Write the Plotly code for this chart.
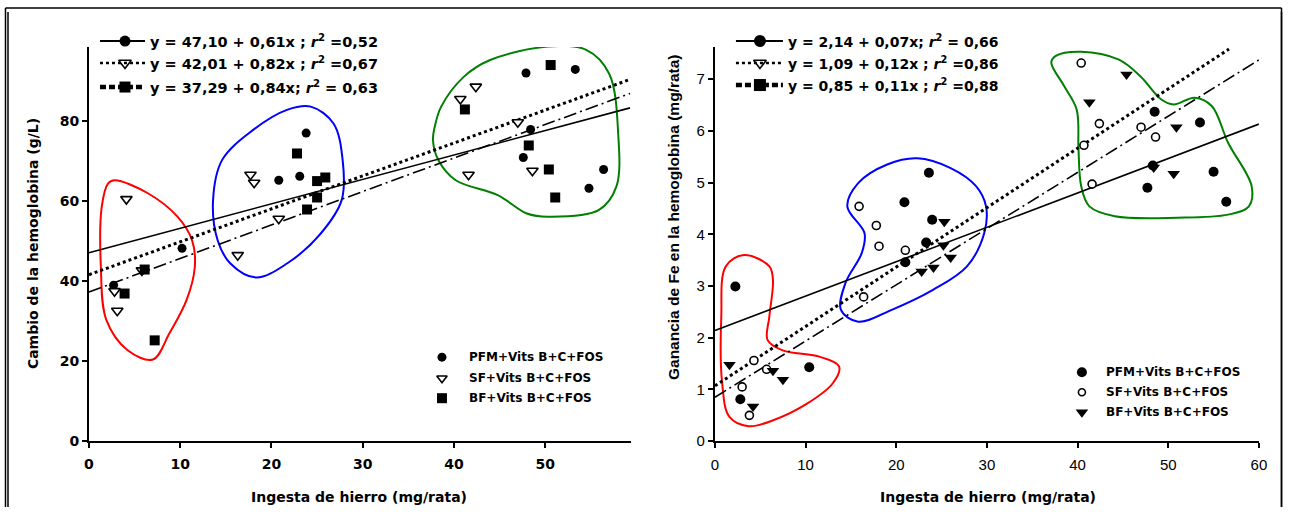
import plotly.graph_objects as go

W, H = 1290, 515

# ---------------- data: left panel (Cambio de la hemoglobina, g/L) ----------------
L_pfm_x = [2.7, 10.2, 20.8, 23.1, 23.8, 47.9, 53.3, 48.4, 47.6, 56.4, 54.8]
L_pfm_y = [39.0, 48.2, 65.2, 66.2, 77.0, 92.0, 92.9, 77.9, 70.9, 67.9, 63.2]
L_sf_x = [4.1, 2.8, 3.1, 5.8, 16.3, 17.7, 18.1, 20.8, 40.7, 42.4, 41.6, 47.0, 48.6]
L_sf_y = [60.5, 37.5, 32.6, 42.7, 46.5, 66.6, 64.6, 55.6, 85.5, 88.6, 66.6, 79.7, 67.6]
L_bf_x = [3.9, 6.1, 7.2, 22.8, 23.9, 25.0, 25.0, 25.9, 41.2, 48.2, 50.6, 50.4, 51.1]
L_bf_y = [36.9, 42.9, 25.2, 71.9, 57.9, 65.0, 60.9, 65.9, 82.9, 73.9, 94.0, 67.9, 60.9]

L_fit_x = [0, 59.3]
L_fit_pfm = [47.1, 83.3]
L_fit_sf = [41.6, 90.4]
L_fit_bf = [37.3, 86.9]

L_red_x = [2.8, 6.5, 9.7, 11.3, 11.6, 10.7, 8.8, 7.0, 4.2, 1.9, 1.3, 1.4, 2.1, 2.8]
L_red_y = [65.2, 61.9, 56.1, 50.2, 43.6, 35.3, 26.9, 20.4, 22.8, 30.3, 43.6, 58.6, 64.4, 65.2]
L_blue_x = [24.3, 26.8, 27.8, 27.7, 25.4, 21.7, 18.3, 15.5, 14.1, 13.6, 14.6, 18.0, 21.7, 24.3]
L_blue_y = [83.6, 79.4, 70.3, 60.3, 51.9, 44.4, 40.9, 44.4, 50.2, 60.3, 70.3, 77.8, 82.8, 83.6]
L_green_x = [38.6, 41.1, 43.9, 50.3, 54.5, 57.0, 58.0, 57.8, 55.9, 50.3, 48.0, 44.8, 40.2, 38.3, 37.7, 37.9, 38.6]
L_green_y = [83.6, 91.1, 95.2, 98.6, 97.8, 91.9, 76.9, 63.6, 57.8, 56.1, 56.9, 61.5, 65.2, 70.2, 75.2, 78.6, 83.6]

L_xticks = [0, 10, 20, 30, 40, 50]
L_yticks = [0, 20, 40, 60, 80]

# ---------------- data: right panel (Ganancia de Fe, mg/rata) ----------------
R_pfm_x = [2.25, 2.8, 10.4, 20.9, 21.0, 23.6, 23.96, 23.3, 48.5, 53.5, 47.7, 48.3, 55.0, 56.4]
R_pfm_y = [2.99, 0.81, 1.43, 4.62, 3.46, 5.19, 4.28, 3.84, 6.37, 6.16, 4.90, 5.33, 5.21, 4.63]
R_sf_x = [3.0, 4.3, 3.8, 5.7, 15.9, 17.8, 18.1, 21.0, 16.4, 40.4, 42.4, 40.7, 47.0, 48.6, 41.6]
R_sf_y = [1.05, 1.56, 0.50, 1.39, 4.54, 4.17, 3.77, 3.69, 2.79, 7.31, 6.14, 5.72, 6.07, 5.88, 4.97]
R_bf_x = [1.6, 4.2, 6.4, 7.5, 22.8, 24.1, 25.2, 25.3, 26.0, 41.3, 45.4, 50.9, 50.6, 48.4]
R_bf_y = [1.48, 0.67, 1.36, 1.19, 3.28, 3.36, 3.79, 4.24, 3.55, 6.55, 7.09, 6.07, 5.17, 5.29]

R_fit_pfm_x = [0, 60]
R_fit_pfm_y = [2.14, 6.13]
R_fit_sf_x = [0, 56.7]
R_fit_sf_y = [1.07, 7.58]
R_fit_bf_x = [0, 60]
R_fit_bf_y = [0.85, 7.37]

R_red_x = [3.2, 6.0, 6.4, 6.0, 5.8, 7.4, 11.6, 13.7, 13.0, 10.2, 6.5, 3.7, 1.6, 0.8, 0.7, 1.2, 3.2]
R_red_y = [3.60, 3.38, 3.12, 2.41, 1.96, 1.76, 1.63, 1.44, 1.12, 0.73, 0.41, 0.29, 0.47, 1.12, 2.41, 3.38, 3.60]
R_blue_x = [22.3, 26.0, 28.8, 29.9, 29.7, 27.8, 24.1, 19.5, 15.8, 13.9, 14.4, 16.2, 16.5, 14.6, 15.8, 19.0, 22.3]
R_blue_y = [5.47, 5.28, 4.93, 4.54, 4.02, 3.38, 2.93, 2.54, 2.31, 2.54, 3.06, 3.64, 4.02, 4.54, 4.99, 5.35, 5.47]
R_green_x = [40.4, 44.5, 46.9, 49.2, 50.6, 52.9, 54.8, 56.6, 59.2, 58.9, 56.6, 51.0, 44.1, 41.3, 40.4, 40.1, 39.9, 38.5, 37.1, 37.6, 40.4]
R_green_y = [7.53, 7.38, 7.06, 6.61, 6.51, 6.64, 6.48, 5.77, 4.93, 4.54, 4.38, 4.32, 4.35, 4.54, 4.93, 5.64, 6.41, 6.87, 7.32, 7.45, 7.53]

R_xticks = [0, 10, 20, 30, 40, 50, 60]
R_yticks = [0, 1, 2, 3, 4, 5, 6, 7]

# ---------------- text ----------------
L_eq = ["y = 47,10 + 0,61x ; <i>r</i><sup>2</sup> =0,52",
        "y = 42,01 + 0,82x ; <i>r</i><sup>2</sup> =0,67",
        "y = 37,29 + 0,84x; <i>r</i><sup>2</sup> = 0,63"]
R_eq = ["y = 2,14 + 0,07x; <i>r</i><sup>2</sup> = 0,66",
        "y = 1,09 + 0,12x ; <i>r</i><sup>2</sup> =0,86",
        "y = 0,85 + 0,11x ; <i>r</i><sup>2</sup> =0,88"]
groups = ["PFM+Vits B+C+FOS", "SF+Vits B+C+FOS", "BF+Vits B+C+FOS"]

FONT = "DejaVu Sans"
FONT2 = "Liberation Sans"

# capture compensation (measured): displayed_x = AX + SX * x ; displayed_y = SY * y
AX, SX, SY = 4.0, 0.99, 0.984

def hx(x):
    return min(max((x - AX) / SX, 0.5), W - 0.5)

def vy(y):
    return y / SY

def px(x):
    return hx(x) / W

def py(y):
    return max(1 - vy(y) / H, 0)

fig = go.Figure()

def hull(xs, ys, color, xa, ya):
    fig.add_trace(go.Scatter(x=xs, y=ys, mode="lines", xaxis=xa, yaxis=ya,
                             line=dict(color=color, width=2, shape="spline", smoothing=1.0),
                             hoverinfo="skip", showlegend=False))

def fit(xs, ys, style, xa, ya):
    if style == "solid":
        ln = dict(color="black", width=1.6)
    elif style == "dot":
        ln = dict(color="black", width=3, dash="3px,3px")
    else:
        ln = dict(color="black", width=1.6, dash="13px,4px,2px,4px")
    fig.add_trace(go.Scatter(x=xs, y=ys, mode="lines", xaxis=xa, yaxis=ya, line=ln,
                             hoverinfo="skip", showlegend=False))

def pts(xs, ys, symbol, size, xa, ya, open_=False):
    if open_:
        mk = dict(symbol=symbol, size=size, color="white", line=dict(color="black", width=1.6))
    else:
        mk = dict(symbol=symbol, size=size, color="black", line=dict(color="black", width=0))
    fig.add_trace(go.Scatter(x=xs, y=ys, mode="markers", xaxis=xa, yaxis=ya, marker=mk,
                             cliponaxis=False, showlegend=False))

# left panel
hull(L_red_x, L_red_y, "#ff0000", "x", "y")
hull(L_blue_x, L_blue_y, "#0000ff", "x", "y")
hull(L_green_x, L_green_y, "#008000", "x", "y")
fit(L_fit_x, L_fit_pfm, "solid", "x", "y")
fit(L_fit_x, L_fit_sf, "dot", "x", "y")
fit(L_fit_x, L_fit_bf, "dash", "x", "y")
pts(L_pfm_x, L_pfm_y, "circle", 9, "x", "y")
pts(L_sf_x, L_sf_y, "triangle-down", 10, "x", "y", open_=True)
pts(L_bf_x, L_bf_y, "square", 10, "x", "y")

# right panel
hull(R_red_x, R_red_y, "#ff0000", "x2", "y2")
hull(R_blue_x, R_blue_y, "#0000ff", "x2", "y2")
hull(R_green_x, R_green_y, "#008000", "x2", "y2")
fit(R_fit_pfm_x, R_fit_pfm_y, "solid", "x2", "y2")
fit(R_fit_sf_x, R_fit_sf_y, "dot", "x2", "y2")
fit(R_fit_bf_x, R_fit_bf_y, "dash", "x2", "y2")
pts(R_pfm_x, R_pfm_y, "circle", 10, "x2", "y2")
pts(R_sf_x, R_sf_y, "circle", 8, "x2", "y2", open_=True)
pts(R_bf_x, R_bf_y, "triangle-down", 11, "x2", "y2")

# ---------------- legend samples (pixel axes x3/y3 covering the figure) ----------------
shapes = []
annotations = []

def leg_line(x0, x1, y, style):
    if style == "solid":
        ln = dict(color="black", width=2)
    elif style == "dot":
        ln = dict(color="black", width=2.5, dash="3px,3px")
    else:
        ln = dict(color="black", width=4.5, dash="6px,3px")
    shapes.append(dict(type="line", xref="x3", yref="y3", x0=hx(x0), x1=hx(x1), y0=vy(y), y1=vy(y),
                       line=ln, layer="above"))

def leg_marker(x, y, symbol, size, open_=False):
    if open_:
        mk = dict(symbol=symbol, size=size, color="white", line=dict(color="black", width=1.6))
    else:
        mk = dict(symbol=symbol, size=size, color="black", line=dict(width=0))
    fig.add_trace(go.Scatter(x=[hx(x)], y=[vy(y)], mode="markers", xaxis="x3", yaxis="y3", marker=mk,
                             cliponaxis=False, showlegend=False, hoverinfo="skip"))

def text(x, y, s, size, weight="bold", family=FONT, xanchor="left", angle=0):
    annotations.append(dict(xref="paper", yref="paper", x=px(x), y=py(y), text=s, showarrow=False,
                            xanchor=xanchor, yanchor="middle", textangle=angle,
                            font=dict(family=family, size=size, color="black", weight=weight)))

# top equation legends
styles = ["solid", "dot", "dash"]
L_rows = [41, 63, 87]
L_syms = [("circle", 11, False), ("triangle-down", 11, True), ("square", 11, False)]
for i in range(3):
    leg_line(99, 144, L_rows[i], styles[i])
    s, sz, o = L_syms[i]
    leg_marker(124, L_rows[i], s, sz, o)
    text(147, L_rows[i], "<b>" + L_eq[i] + "</b>", 14.5)

R_rows = [41, 63, 85]
R_syms = [("circle", 12, False), ("triangle-down", 11, True), ("square", 12, False)]
for i in range(3):
    leg_line(735, 782, R_rows[i], styles[i])
    s, sz, o = R_syms[i]
    leg_marker(759, R_rows[i], s, sz, o)
    text(785, R_rows[i], "<b>" + R_eq[i] + "</b>", 14)

# bottom group legends
Lg_rows = [357, 378, 398]
Lg_syms = [("circle", 9, False), ("triangle-down", 9, True), ("square", 10, False)]
for i in range(3):
    s, sz, o = Lg_syms[i]
    leg_marker(441, Lg_rows[i], s, sz, o)
    text(466, Lg_rows[i], groups[i], 12)

Rg_rows = [372, 392, 412]
Rg_syms = [("circle", 10, False), ("circle", 7, True), ("triangle-down", 11, False)]
for i in range(3):
    s, sz, o = Rg_syms[i]
    leg_marker(1081, Rg_rows[i], s, sz, o)
    text(1103, Rg_rows[i], groups[i], 12)

# axis titles
text(32, 243, "Cambio de la hemoglobina (g/L)", 14, xanchor="center", angle=-90)
text(358, 497, "Ingesta de hierro (mg/rata)", 14, xanchor="center")
text(672, 217, "<b>Ganancia de Fe en la hemoglobina (mg/rata)</b>", 15.5, family=FONT2, xanchor="center", angle=-90)
text(987, 497, "Ingesta de hierro (mg/rata)", 14, xanchor="center")

# outer frame
frame = dict(color="black", width=1.5)
for (x0, y0, x1, y1) in [(3, 8, 1287, 8), (3, 8, 3, 520), (7, 12, 7, 520), (1283, 12, 1283, 520), (1287, 8, 1287, 520)]:
    shapes.append(dict(type="line", xref="paper", yref="paper", x0=px(x0), y0=py(y0),
                       x1=px(x1), y1=py(y1), line=frame))

ydom = [py(441), py(47)]
axis_common = dict(showline=True, linecolor="black", linewidth=2, ticks="outside", ticklen=5,
                   tickwidth=2, tickcolor="black", showgrid=False, zeroline=False)

fig.update_layout(
    width=W, height=H, margin=dict(l=0, r=0, t=0, b=0),
    paper_bgcolor="white", plot_bgcolor="rgba(0,0,0,0)", showlegend=False,
    xaxis=dict(domain=[px(88), px(630)], range=[0, 59.4], tickvals=L_xticks, anchor="y", ticklabelstandoff=4,
               tickfont=dict(family=FONT, size=14, color="black", weight="bold"), **axis_common),
    yaxis=dict(domain=ydom, range=[0, 98.5], tickvals=L_yticks, anchor="x",
               tickfont=dict(family=FONT, size=14, color="black", weight="bold"), **axis_common),
    xaxis2=dict(domain=[px(714), px(1258)], range=[0, 60], tickvals=R_xticks, anchor="y2", ticklabelstandoff=4,
                tickfont=dict(family=FONT2, size=15, color="black"), **axis_common),
    yaxis2=dict(domain=ydom, range=[0, 7.62], tickvals=R_yticks, anchor="x2",
                tickfont=dict(family=FONT2, size=15, color="black"), **axis_common),
    xaxis3=dict(domain=[0, 1], range=[0, W], visible=False, anchor="y3", fixedrange=True),
    yaxis3=dict(domain=[0, 1], range=[H, 0], visible=False, anchor="x3", fixedrange=True),
    shapes=shapes, annotations=annotations,
)

fig.write_html("out.html")
